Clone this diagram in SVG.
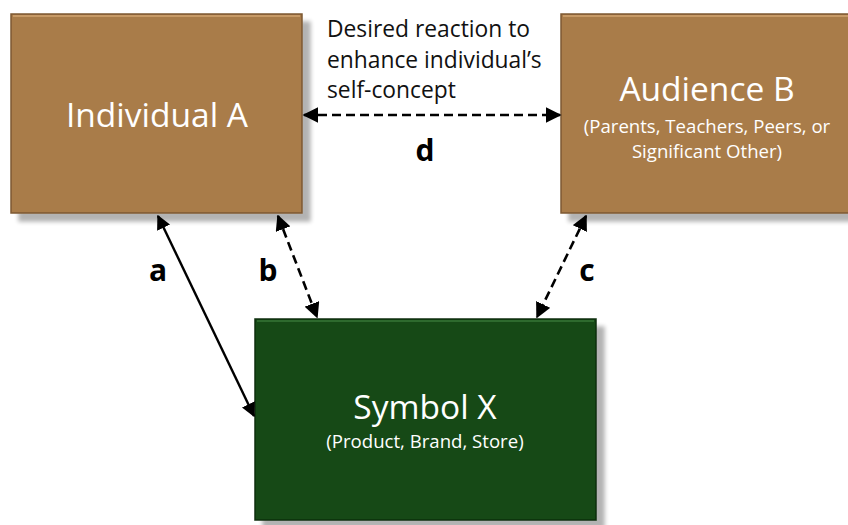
<svg xmlns="http://www.w3.org/2000/svg" width="848" height="525" viewBox="0 0 848 525">
<style>
.brown{fill:#A97B4A;stroke:#7D5833;stroke-width:1.5}
.green{fill:#154815;stroke:#0C2E0C;stroke-width:1.5}
.title{font-family:"Open Sans","Noto Sans",sans-serif;font-size:33.5px;fill:#fff;text-anchor:middle}
.sub{font-family:"Open Sans","Noto Sans",sans-serif;font-size:18.6px;fill:#fff;text-anchor:middle}
.note{font-family:"Open Sans","Noto Sans",sans-serif;font-size:22.8px;fill:#111}
.lab{font-family:"Open Sans","Noto Sans",sans-serif;font-size:30px;font-weight:bold;fill:#000;text-anchor:middle}
.solid{stroke:#000;stroke-width:2.4;fill:none}
.dash{stroke:#000;stroke-width:2.6;fill:none;stroke-dasharray:9 5}
</style>
<defs>
<filter id="sh" x="-10%" y="-10%" width="130%" height="130%">
<feGaussianBlur in="SourceAlpha" stdDeviation="2"/>
<feOffset dx="8" dy="8"/>
<feComponentTransfer><feFuncA type="linear" slope="0.3"/></feComponentTransfer>
<feMerge><feMergeNode/><feMergeNode in="SourceGraphic"/></feMerge>
</filter>
<marker id="ah" viewBox="0 0 10 10" refX="9" refY="5" markerWidth="6" markerHeight="6" orient="auto-start-reverse" markerUnits="strokeWidth">
<path d="M0,0 L10,5 L0,10 z" fill="#000"/>
</marker>
</defs>
<rect width="848" height="525" fill="#fff"/>
<g id="individual-a">
<rect class="brown" x="11" y="14" width="291" height="199" filter="url(#sh)"/>
<line x1="13" y1="16" x2="300" y2="16" stroke="#C79A66" stroke-width="2"/>
<text class="title" x="157" y="127">Individual A</text>
</g>
<g id="audience-b">
<rect class="brown" x="561" y="14" width="300" height="199" filter="url(#sh)"/>
<line x1="563" y1="16" x2="848" y2="16" stroke="#C79A66" stroke-width="2"/>
<text class="title" x="707" y="101">Audience B</text>
<text class="sub" x="707" y="133">(Parents, Teachers, Peers, or</text>
<text class="sub" x="707" y="158">Significant Other)</text>
</g>
<g id="symbol-x">
<rect class="green" x="255" y="319" width="341" height="201" filter="url(#sh)"/>
<line x1="257" y1="321" x2="594" y2="321" stroke="#2E6A2E" stroke-width="2"/>
<text class="title" x="425" y="419">Symbol X</text>
<text class="sub" x="425" y="448">(Product, Brand, Store)</text>
</g>
<g id="connectors">
<line class="solid" x1="158" y1="216" x2="254" y2="416" marker-start="url(#ah)" marker-end="url(#ah)"/>
<line class="dash" x1="278" y1="216" x2="317" y2="317" marker-start="url(#ah)" marker-end="url(#ah)"/>
<line class="dash" x1="586" y1="216" x2="537" y2="317" marker-start="url(#ah)" marker-end="url(#ah)"/>
<line class="dash" x1="304" y1="115" x2="560" y2="115" marker-start="url(#ah)" marker-end="url(#ah)"/>
</g>
<g id="labels">
<text class="note" x="327" y="37">Desired reaction to</text>
<text class="note" x="327" y="68">enhance individual’s</text>
<text class="note" x="327" y="98">self-concept</text>
<text class="lab" x="425" y="161">d</text>
<text class="lab" x="158" y="281">a</text>
<text class="lab" x="268" y="281">b</text>
<text class="lab" x="587" y="281">c</text>
</g>
</svg>
